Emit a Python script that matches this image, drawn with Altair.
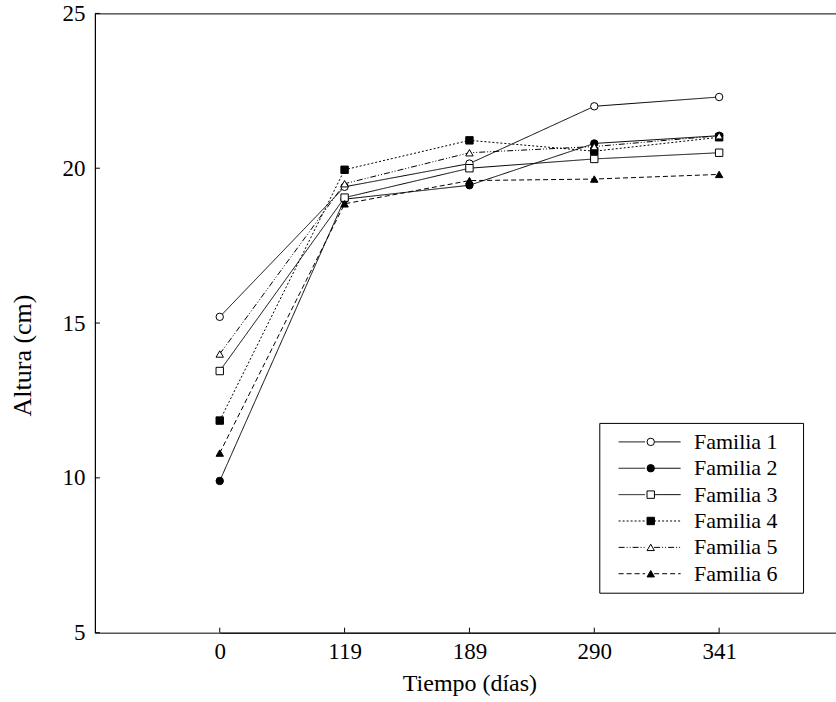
import altair as alt
import pandas as pd

tiempo = ["0", "119", "189", "290", "341"]
familias = ["Familia 1", "Familia 2", "Familia 3", "Familia 4", "Familia 5", "Familia 6"]
familia1 = [15.2, 19.4, 20.15, 22.0, 22.3]
familia2 = [9.9, 19.0, 19.45, 20.8, 21.05]
familia3 = [13.45, 19.05, 20.0, 20.3, 20.5]
familia4 = [11.85, 19.95, 20.9, 20.55, 21.0]
familia5 = [14.0, 19.5, 20.5, 20.7, 21.05]
familia6 = [10.8, 18.85, 19.6, 19.65, 19.8]
y_ticks = [5, 10, 15, 20, 25]

valores = [familia1, familia2, familia3, familia4, familia5, familia6]
marcas = [f + " " for f in familias]  # separate key so the marker legend is not merged
rows = []
for fam, mk, vals in zip(familias, marcas, valores):
    for t, v in zip(tiempo, vals):
        rows.append({"tiempo": t, "altura": v, "familia": fam, "familia_m": mk})
df = pd.DataFrame(rows)

FONT = "Liberation Serif"

x = alt.X(
    "tiempo:N",
    sort=tiempo,
    scale=alt.Scale(type="point", domain=tiempo, range=[125, 625], padding=0),
    axis=alt.Axis(title="Tiempo (días)", labelAngle=0, ticks=False, grid=False,
                  labelPadding=8, titlePadding=8, titleFontSize=24),
)
y = alt.Y(
    "altura:Q",
    scale=alt.Scale(domain=[5, 25], nice=False, zero=False),
    axis=alt.Axis(title="Altura (cm)", values=y_ticks, ticks=False, grid=False,
                  labelPadding=10, titleFontSize=26, titleX=-72, titleY=342,
                  titleBaseline="middle"),
)

dash_range = [[1, 0], [1, 0], [1, 0], [2, 2], [6, 2, 1, 2, 1, 2], [5, 3]]

leg_lines = alt.Legend(
    title="--", titleOrient="right", titleOpacity=0, titleFontSize=22, titlePadding=2,
    orient="none", legendX=505, legendY=410,
    symbolType="M-3.45,0H-0.5M0.5,0H3.45", symbolSize=324,
    symbolStrokeColor="black", symbolStrokeWidth=1.2,
    labelFont=FONT, labelFontSize=22, labelColor="black",
    padding=8, symbolOffset=31.4, labelOffset=33.4, rowPadding=4.4,
    strokeColor="black",
)
leg_pts = alt.Legend(
    title=None, orient="none", legendX=537.5, legendY=410,
    symbolSize=55, symbolStrokeColor="black", symbolStrokeWidth=1, symbolOpacity=1,
    labelFont=FONT, labelFontSize=22, labelOpacity=0, labelExpr="''",
    padding=8, labelOffset=20, rowPadding=4.4,
)

lines = alt.Chart(df).mark_line(color="black").encode(
    x=x, y=y,
    strokeDash=alt.StrokeDash("familia:N", scale=alt.Scale(domain=familias, range=dash_range), legend=leg_lines),
    strokeWidth=alt.StrokeWidth("familia:N", scale=alt.Scale(domain=familias, range=[1, 1, 1, 1.7, 1.4, 1.7]), legend=None),
)

points = alt.Chart(df).mark_point(size=55, opacity=1, strokeWidth=1, filled=False).encode(
    x=x, y=y,
    shape=alt.Shape("familia_m:N", scale=alt.Scale(domain=marcas, range=["circle", "circle", "square", "square", "triangle-up", "triangle-up"]), legend=leg_pts),
    fill=alt.Fill("familia_m:N", scale=alt.Scale(domain=marcas, range=["white", "black", "white", "black", "white", "black"]), legend=leg_pts),
    stroke=alt.Stroke("familia_m:N", scale=alt.Scale(domain=marcas, range=["black"] * 6), legend=leg_pts),
)

xt = pd.DataFrame({"tiempo": tiempo})
x_tick_marks = alt.Chart(xt).mark_rule(color="black").encode(x=x, y=alt.value(620), y2=alt.value(615))
yt = pd.DataFrame({"altura": y_ticks})
y_tick_marks = alt.Chart(yt).mark_rule(color="black").encode(y=y, x=alt.value(0), x2=alt.value(5))

chart = alt.layer(lines, points, x_tick_marks, y_tick_marks).properties(
    width=742, height=620,
    autosize=alt.AutoSizeParams(type="none"),
    padding={"left": 95, "top": 13, "right": 0, "bottom": 69},
).configure_view(stroke="black", strokeWidth=1).configure_axis(
    labelFont=FONT, labelFontSize=23, labelColor="black",
    titleFont=FONT, titleFontWeight="normal", titleColor="black",
    domainColor="black", domainWidth=1,
)

chart.save("out.html", embed_options={"renderer": "svg", "actions": False})
